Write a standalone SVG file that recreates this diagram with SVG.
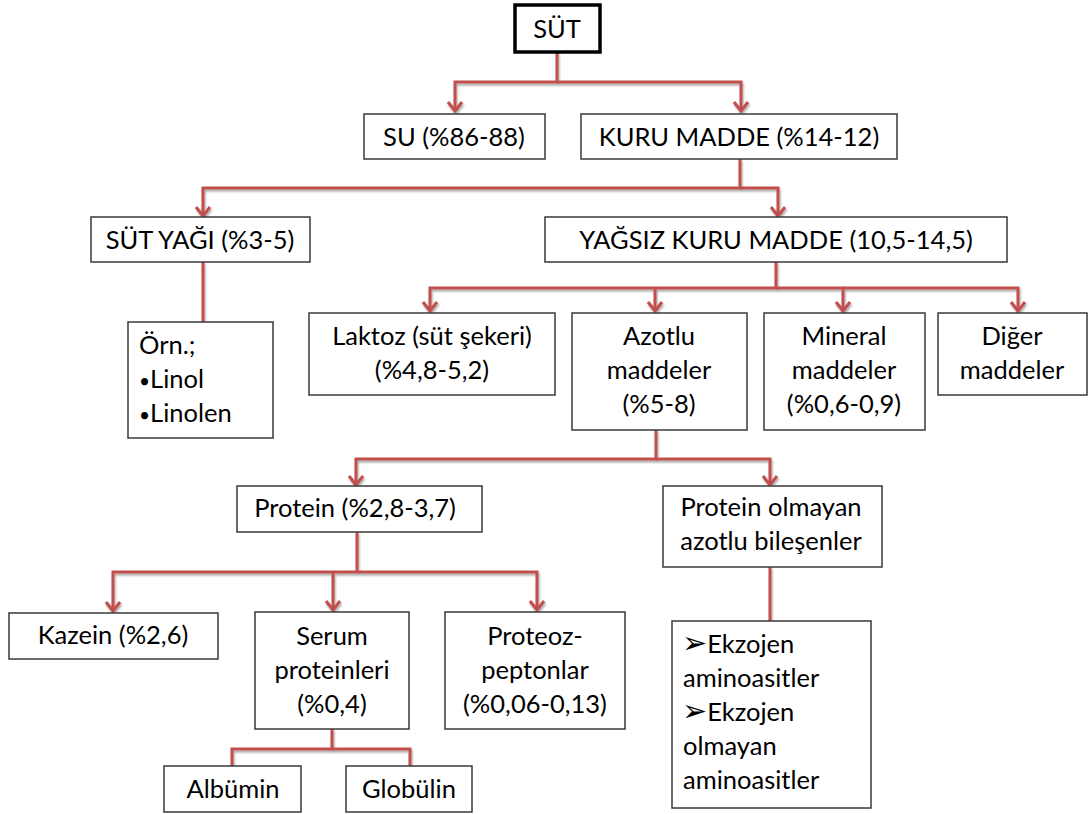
<svg xmlns="http://www.w3.org/2000/svg" width="1091" height="814" viewBox="0 0 1091 814">
<defs>
<marker id="arr" markerUnits="userSpaceOnUse" markerWidth="24" markerHeight="24" viewBox="-12 -12 24 24" refX="0" refY="0" orient="auto" overflow="visible">
<path d="M-9,-7 L0,0 L-9,7" fill="none" stroke="#C0504D" stroke-width="3" stroke-linejoin="miter"/>
</marker>
<filter id="sh" x="-10%" y="-10%" width="120%" height="120%">
<feDropShadow dx="1" dy="2" stdDeviation="1" flood-color="#000" flood-opacity="0.35"/>
</filter>
</defs>
<style>
.box{fill:#fff;stroke:#3a3a3a;stroke-width:1.5}
.top{fill:#fff;stroke:#000;stroke-width:3.5}
text{font-family:Lato,"Noto Sans","Liberation Sans",sans-serif;font-size:25.5px;fill:#000}
.c{text-anchor:middle}
.b{font-size:19px}
.a{font-family:"DejaVu Sans",sans-serif;font-size:30px}
.con path{fill:none;stroke:#C0504D;stroke-width:3}
</style>
<rect width="1091" height="814" fill="#fff"/>
<g id="connectors" class="con" filter="url(#sh)">
<path d="M557,52 V82 H455 V111" marker-end="url(#arr)"/>
<path d="M557,82 H741 V111" marker-end="url(#arr)"/>
<path d="M740,159 V188 H203 V216" marker-end="url(#arr)"/>
<path d="M740,188 H778 V216" marker-end="url(#arr)"/>
<path d="M203,262 V322"/>
<path d="M776,262 V288 H430 V311" marker-end="url(#arr)"/>
<path d="M655,288 V311" marker-end="url(#arr)"/>
<path d="M776,288 H843 V311" marker-end="url(#arr)"/>
<path d="M843,288 H1018 V311" marker-end="url(#arr)"/>
<path d="M656,430 V459 H356 V485" marker-end="url(#arr)"/>
<path d="M656,459 H770 V485" marker-end="url(#arr)"/>
<path d="M357,532 V572 H113 V611" marker-end="url(#arr)"/>
<path d="M333,572 V610" marker-end="url(#arr)"/>
<path d="M357,572 H537 V610" marker-end="url(#arr)"/>
<path d="M332,729 V749 H232 V766"/>
<path d="M332,749 H410 V766"/>
<path d="M770,567 V621"/>
</g>
<g id="sut"><rect class="top" x="515" y="5" width="85" height="47"/><text class="c" x="557" y="38">SÜT</text></g>
<g id="su"><rect class="box" x="364" y="114" width="181" height="45"/><text class="c" x="454" y="146">SU (%86-88)</text></g>
<g id="kuru"><rect class="box" x="581" y="114" width="316" height="45"/><text class="c" x="739" y="146">KURU MADDE (%14-12)</text></g>
<g id="sutyagi"><rect class="box" x="91" y="217" width="219" height="45"/><text class="c" x="200" y="249">SÜT YAĞI (%3-5)</text></g>
<g id="yagsiz"><rect class="box" x="545" y="217" width="462" height="45"/><text class="c" x="776" y="249">YAĞSIZ KURU MADDE (10,5-14,5)</text></g>
<g id="orn"><rect class="box" x="128" y="322" width="145" height="116"/>
<text x="139" y="354">Örn.;</text><text x="139" y="388"><tspan class="b">•</tspan>Linol</text><text x="139" y="422"><tspan class="b">•</tspan>Linolen</text></g>
<g id="laktoz"><rect class="box" x="309" y="313" width="246" height="82"/>
<text class="c" x="432" y="345">Laktoz (süt şekeri)</text><text class="c" x="432" y="379">(%4,8-5,2)</text></g>
<g id="azotlu"><rect class="box" x="572" y="313" width="175" height="117"/>
<text class="c" x="659" y="345">Azotlu</text><text class="c" x="659" y="379">maddeler</text><text class="c" x="659" y="413">(%5-8)</text></g>
<g id="mineral"><rect class="box" x="764" y="313" width="161" height="117"/>
<text class="c" x="844" y="345">Mineral</text><text class="c" x="844" y="379">maddeler</text><text class="c" x="844" y="413">(%0,6-0,9)</text></g>
<g id="diger"><rect class="box" x="938" y="313" width="149" height="82"/>
<text class="c" x="1012" y="345">Diğer</text><text class="c" x="1012" y="379">maddeler</text></g>
<g id="protein"><rect class="box" x="237" y="486" width="245" height="46"/><text class="c" x="355" y="517">Protein (%2,8-3,7)</text></g>
<g id="nonprotein"><rect class="box" x="663" y="486" width="219" height="81"/>
<text class="c" x="771" y="516">Protein olmayan</text><text class="c" x="771" y="550">azotlu bileşenler</text></g>
<g id="kazein"><rect class="box" x="9" y="613" width="209" height="46"/><text class="c" x="113" y="644">Kazein (%2,6)</text></g>
<g id="serum"><rect class="box" x="255" y="612" width="154" height="117"/>
<text class="c" x="332" y="645">Serum</text><text class="c" x="332" y="679">proteinleri</text><text class="c" x="332" y="713">(%0,4)</text></g>
<g id="proteoz"><rect class="box" x="445" y="612" width="180" height="117"/>
<text class="c" x="535" y="645">Proteoz-</text><text class="c" x="535" y="679">peptonlar</text><text class="c" x="535" y="713">(%0,06-0,13)</text></g>
<g id="albumin"><rect class="box" x="164" y="766" width="137" height="46"/><text class="c" x="233" y="798">Albümin</text></g>
<g id="globulin"><rect class="box" x="346" y="766" width="126" height="46"/><text class="c" x="409" y="798">Globülin</text></g>
<g id="ekzojen"><rect class="box" x="672" y="621" width="199" height="187"/>
<text x="682" y="653"><tspan class="a">➢</tspan>Ekzojen</text><text x="683" y="687">aminoasitler</text><text x="682" y="721"><tspan class="a">➢</tspan>Ekzojen</text><text x="683" y="755">olmayan</text><text x="683" y="789">aminoasitler</text></g>
</svg>
